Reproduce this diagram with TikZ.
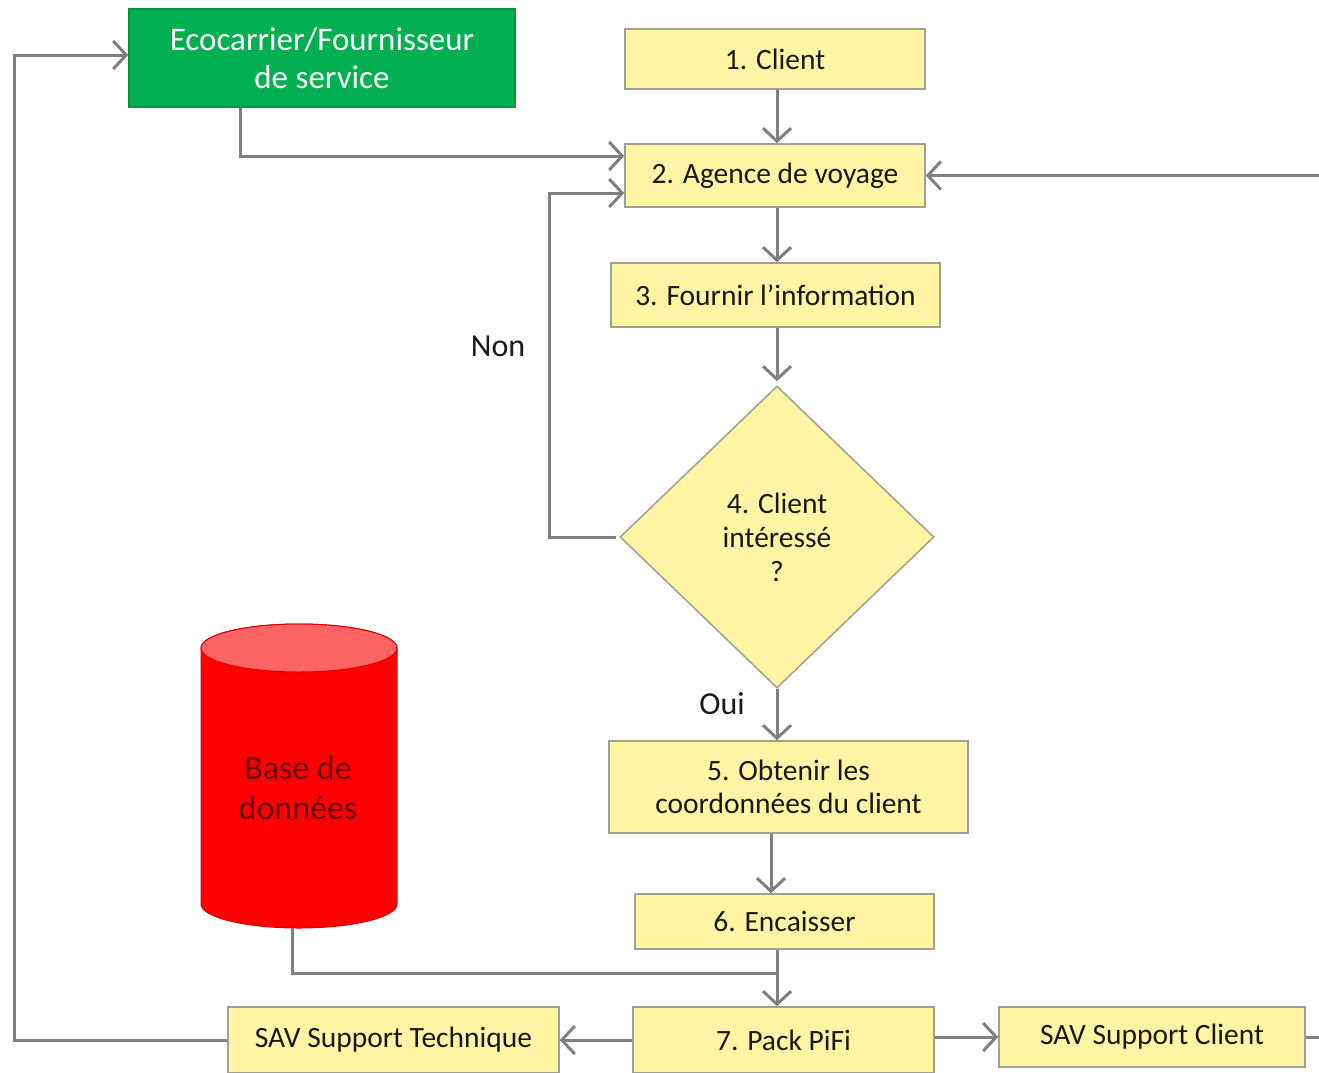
\documentclass[tikz,border=0pt]{standalone}
\usepackage{fontspec}
\setmainfont{Carlito}
\usetikzlibrary{arrows.meta,shapes.geometric,calc}
\definecolor{boxfill}{HTML}{FFF5A5}
\definecolor{boxline}{HTML}{A0A090}
\definecolor{connc}{HTML}{7F7F7F}
\definecolor{ecogreen}{HTML}{00B050}
\definecolor{dbred}{HTML}{FF0000}
\definecolor{dbtop}{HTML}{FF6464}
\definecolor{dbtext}{HTML}{6A0000}
\begin{document}
\begin{tikzpicture}[x=1pt,y=-1pt,
  stepbox/.style={draw=boxline, line width=1.5pt, fill=boxfill, text=black!90,
    font=\fontsize{29.5}{34}\selectfont, align=center, inner sep=0pt},
  conn/.style={draw=connc, line width=3pt,
    -{Straight Barb[length=13pt,width=28pt,line width=3pt]}},
  plainline/.style={draw=connc, line width=3pt},
  lbl/.style={font=\fontsize{32}{38}\selectfont, text=black!90, inner sep=0pt}]
\useasboundingbox (0,0) rectangle (1319,1072);
\clip (0,0) rectangle (1319,1072);
\fill[white] (0,0) rectangle (1319,1072);

% helper coordinates
\coordinate (cx1) at (771,0);
\coordinate (cx) at (777,0);
\coordinate (jn) at (777,973);
\coordinate (lx) at (14,0);
\coordinate (ex) at (240,0);
\coordinate (nx) at (549,0);
\coordinate (rx) at (1345,0);
\coordinate (dbb) at (292,928);

% nodes
\node[stepbox, minimum width=386pt, minimum height=98pt, fill=ecogreen,
      draw=ecogreen!85!black, text=white, font=\fontsize{33}{38}\selectfont] (eco) at (322,58)
      {Ecocarrier/Fournisseur\\de service};
\node[stepbox, minimum width=300pt, minimum height=60pt] (c1) at (775,59) {1. Client};
\node[stepbox, minimum width=300pt, minimum height=63pt] (a2) at (775,175.5) {2. Agence de voyage};
\node[stepbox, minimum width=329pt, minimum height=64pt] (f3) at (775.5,295) {3. Fournir l’information};
\node[stepbox, diamond, minimum width=314pt, minimum height=302pt] (d4) at (777,537) {4. Client\\intéressé\\?};
\node[stepbox, minimum width=359pt, minimum height=92pt, font=\fontsize{29.5}{33}\selectfont] (o5) at (788.5,787) {5. Obtenir les\\coordonnées du client};
\node[stepbox, minimum width=299pt, minimum height=55pt] (e6) at (784.5,921.5) {6. Encaisser};
\node[stepbox, minimum width=301pt, minimum height=66pt] (p7) at (783.5,1040) {7. Pack PiFi};
\node[stepbox, minimum width=331pt, minimum height=66pt] (st) at (393.5,1040) {SAV Support Technique};
\node[stepbox, minimum width=306pt, minimum height=60pt] (sc) at (1152,1037) {SAV Support Client};

% database cylinder
\path[fill=dbred, draw=dbred!85!black, line width=1pt]
  (201,648) -- (201,904) arc[start angle=180, end angle=360, x radius=98, y radius=-24]
  -- (397,648) arc[start angle=0, end angle=180, x radius=98, y radius=-24] -- cycle;
\path[fill=dbtop, draw=dbred!85!black, line width=1pt] (299,648) ellipse[x radius=98, y radius=24];
\node[lbl, text=dbtext, align=center, font=\fontsize{34}{40}\selectfont] (db) at (298,788) {Base de\\données};

% labels
\node[lbl] (non) at (498,346) {Non};
\node[lbl] (oui) at (722,704) {Oui};

% connectors
\draw[conn] (c1.south -| cx) -- (a2.north -| cx);
\draw[conn] (a2.south -| cx) -- (f3.north -| cx);
\draw[conn] (f3.south -| cx) -- ($(d4.north -| cx)+(0,-4)$);
\draw[conn] (d4.south -| cx) -- (o5.north -| cx);
\draw[conn] (o5.south -| cx1) -- (e6.north -| cx1);
\draw[conn] (e6.south -| cx) -- (p7.north -| cx);
\draw[plainline] (dbb) |- (jn);
\draw[conn] (p7.west) -- (st.east);
\draw[conn] (p7.east |- sc.west) -- (sc.west);
\draw[conn] (st.west) -- (st.west -| lx) |- ($(eco.west)+(0,-3)$);
\draw[conn] (eco.south -| ex) |- ($(a2.west)+(0,-19.5)$);
\draw[conn] ($(d4.west)+(-3,0)$) -- (d4.west -| nx) |- ($(a2.west)+(0,17.5)$);
\draw[conn] (sc.east) -- (sc.east -| rx) |- (a2.east);
\end{tikzpicture}
\end{document}
